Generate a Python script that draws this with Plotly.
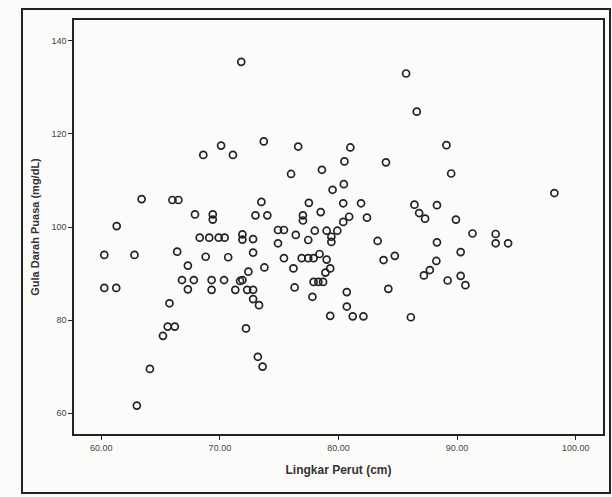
import plotly.graph_objects as go

# Lingkar Perut (cm) and Gula Darah Puasa (mg/dL)
lingkar_perut = [
    71.8, 85.7, 86.6,
    68.6, 70.1, 71.1, 73.7, 76.6, 81.0, 89.1,
    76.0, 78.6, 80.5, 84.0, 89.5,
    80.45, 79.5, 98.2,
    63.4, 66.0, 66.5, 73.5, 77.5, 80.4, 81.9, 86.4, 88.3,
    67.9, 69.4, 69.4, 73.0, 74.0, 77.0, 77.0, 78.5, 80.4, 80.9,
    86.8, 87.3, 82.4, 89.9,
    61.3,
    68.3, 69.1, 69.9, 70.4, 71.9, 71.9, 72.8, 74.9, 75.4, 74.9, 76.4, 77.45,
    78.0, 79.0, 79.9, 79.4, 79.4, 83.3, 91.3, 93.25, 93.25, 94.3, 88.3,
    60.25, 62.8, 66.4, 68.8, 70.7, 72.8, 75.4, 76.9, 77.45, 77.9, 78.4, 79.0,
    83.8, 84.75, 90.3, 88.25,
    67.3, 72.4, 73.75, 76.2, 78.9, 79.3, 87.7, 87.2, 89.2, 90.3, 90.7,
    60.25, 61.26, 66.8, 67.8, 69.3, 70.35, 71.7, 71.9, 77.9, 78.3, 78.7, 76.3,
    67.3, 69.3, 71.3, 72.3, 72.8, 72.8, 73.3, 77.8, 80.7, 84.2,
    65.75, 80.7, 79.3, 81.2, 82.1, 86.1,
    65.6, 66.2, 65.2, 72.2, 73.2, 73.6, 64.1, 63.0,
]
gula_darah = [
    135.5, 133.0, 124.8,
    115.5, 117.5, 115.5, 118.4, 117.3, 117.1, 117.6,
    111.4, 112.3, 114.1, 113.9, 111.5,
    109.2, 108.0, 107.3,
    106.0, 105.8, 105.8, 105.4, 105.2, 105.1, 105.1, 104.8, 104.7,
    102.7, 102.7, 101.6, 102.5, 102.5, 102.5, 101.4, 103.2, 101.1, 102.2,
    103.0, 101.8, 102.0, 101.6,
    100.2,
    97.7, 97.7, 97.7, 97.7, 98.4, 97.3, 97.4, 99.35, 99.35, 96.5, 98.3, 97.2,
    99.2, 99.2, 99.2, 97.9, 96.8, 97.0, 98.6, 98.5, 96.5, 96.5, 96.7,
    94.0, 94.0, 94.7, 93.6, 93.5, 94.5, 93.3, 93.3, 93.3, 93.3, 94.2, 93.0,
    92.9, 93.8, 94.6, 92.7,
    91.7, 90.4, 91.3, 91.1, 90.2, 91.1, 90.75, 89.6, 88.5, 89.5, 87.5,
    86.9, 86.9, 88.6, 88.6, 88.6, 88.6, 88.4, 88.6, 88.2, 88.2, 88.2, 87.0,
    86.6, 86.5, 86.5, 86.5, 86.5, 84.5, 83.2, 85.0, 86.0, 86.7,
    83.6, 82.9, 80.9, 80.8, 80.8, 80.6,
    78.6, 78.6, 76.6, 78.2, 72.1, 70.0, 69.5, 61.6,
]

x_ticks = [60, 70, 80, 90, 100]
x_tick_labels = ["60.00", "70.00", "80.00", "90.00", "100.00"]
y_ticks = [60, 80, 100, 120, 140]
y_tick_labels = ["60", "80", "100", "120", "140"]

fig = go.Figure()
fig.add_trace(go.Scatter(
    x=lingkar_perut, y=gula_darah, mode="markers",
    marker=dict(symbol="circle-open", size=7, color="#222222",
                line=dict(width=1.7, color="#222222")),
    showlegend=False,
))

L, R, T, B = 74, 9, 20, 63
W, H = 612, 497
pw, ph = W - L - R, H - T - B

def px(xpix):
    return (xpix - L) / pw

def py(ypix):
    return (H - B - ypix) / ph

fig.update_layout(
    width=W, height=H,
    margin=dict(l=L, r=R, t=T, b=B),
    paper_bgcolor="#fbfbfa", plot_bgcolor="#fbfbfa",
    font=dict(family="Liberation Sans, Arial, sans-serif", color="#333333"),
    xaxis=dict(
        range=[57.7, 102.3], tickmode="array", tickvals=x_ticks,
        ticktext=x_tick_labels, ticks="outside", ticklen=4, tickcolor="#222",
        showgrid=False, zeroline=False, showline=True, linecolor="#222",
        linewidth=1.5, mirror=True, tickfont=dict(size=9, color="#444"),
        automargin=False,
        title=dict(text="<b>Lingkar Perut (cm)</b>", font=dict(size=12, color="#333"),
                   standoff=14),
    ),
    yaxis=dict(
        range=[55.5, 144.5], tickmode="array", tickvals=y_ticks,
        ticktext=y_tick_labels, ticks="outside", ticklen=4, tickcolor="#222",
        showgrid=False, zeroline=False, showline=True, linecolor="#222",
        linewidth=1.5, mirror=True, tickfont=dict(size=9, color="#444"),
        automargin=False,
        title=dict(text="<b>Gula Darah Puasa (mg/dL)</b>", font=dict(size=11, color="#333"),
                   standoff=10),
    ),
    shapes=[dict(
        type="rect", xref="paper", yref="paper",
        x0=px(22), x1=px(610), y0=py(493), y1=py(9),
        line=dict(color="#222222", width=2), fillcolor="rgba(0,0,0,0)",
        layer="below",
    )],
)

fig.write_html("out.html",
               config={"displayModeBar": False},
               post_script="document.body.style.margin='0';document.body.style.background='#fbfbfa';")
